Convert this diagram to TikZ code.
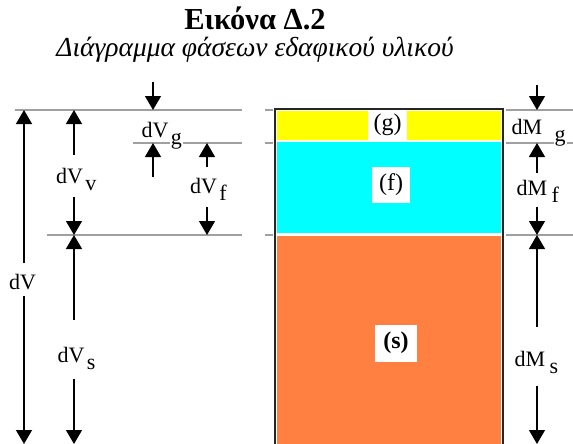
\documentclass[tikz,border=0pt]{standalone}
\usepackage{fontspec}
\setmainfont{Liberation Serif}
\usetikzlibrary{arrows.meta}
\definecolor{gasyellow}{RGB}{255,255,0}
\definecolor{fluidcyan}{RGB}{0,255,255}
\definecolor{solidorange}{RGB}{255,128,64}
\definecolor{guidegray}{RGB}{160,160,160}

\begin{document}
\begin{tikzpicture}[x=1pt,y=-1pt,line join=miter,
  dim/.style={-{Triangle[width=16pt,length=14pt]},line width=1.2pt,black},
  guide/.style={guidegray,line width=1.4pt},
  lbl/.style={font=\fontsize{22}{26}\selectfont,inner sep=0pt,anchor=base},
  subs/.style={font=\fontsize{22}{26}\selectfont,inner sep=1pt,anchor=base west,fill=white},
  phase/.style={fill=white,inner sep=0pt,font=\fontsize{24}{27}\selectfont}]
\useasboundingbox (0,0) rectangle (573,444);

% Title
\node[anchor=base,inner sep=0pt,font=\fontsize{30.5}{34}\selectfont\bfseries] (title) at (255,30) {Εικόνα Δ.2};
\node[anchor=base,inner sep=0pt,font=\fontsize{27.5}{30}\selectfont\itshape] (subtitle) at (255,57)
  {Διάγραμμα φάσεων εδαφικού υλικού};

% Guide lines
\draw[guide] (15,110) -- (242,110);
\draw[guide] (133,143) -- (242,143);
\draw[guide] (47,235) -- (242,235);
\foreach \y in {110,143,235} {
  \draw[guide] (265,\y) -- (273,\y);
  \draw[guide] (506,\y) -- (573,\y);
}

% Phase column
\fill[gasyellow] (277,111) rectangle (501,140);
\fill[fluidcyan] (277,142) rectangle (501,233);
\fill[solidorange] (277,236) rectangle (501,444);
\draw[line width=1.6pt,black!85] (275,444) -- (275,109) -- (503,109) -- (503,444);
\node[phase,minimum width=39pt,minimum height=30pt] (gas) at (387.5,125) {(g)};
\node[phase,minimum width=38pt,minimum height=36pt] (fluid) at (391,185) {(f)};
\node[phase,minimum width=42pt,minimum height=37pt,font=\fontsize{24}{27}\selectfont\bfseries] (solid) at (396,343) {(s)};

% Volume labels
\node[lbl] (V) at (22.5,289) {dV};
\node[lbl] (Vv) at (69.5,183) {dV};
\node[subs] at ([xshift=1pt,yshift=-7pt]Vv.base east) {v};
\node[lbl] (Vs) at (71,362) {dV};
\node[subs] at ([xshift=1pt,yshift=-7pt]Vs.base east) {s};
\node[lbl] (Vg) at (155,137) {dV};
\node[subs] at ([xshift=1pt,yshift=-7pt]Vg.base east) {g};
\node[lbl] (Vf) at (203.5,193) {dV};
\node[subs] at ([xshift=1pt,yshift=-7pt]Vf.base east) {f};

% Mass labels
\node[lbl] (Mg) at (527,134) {dM};
\node[subs] at ([xshift=11pt,yshift=-7pt]Mg.base east) {g};
\node[lbl] (Mf) at (532,195) {dM};
\node[subs] at ([xshift=3pt,yshift=-7pt]Mf.base east) {f};
\node[lbl] (Ms) at (530,366) {dM};
\node[subs] at ([xshift=3pt,yshift=-7pt]Ms.base east) {s};

% Arrow ends
\coordinate (V-a) at (24,263);   \coordinate (V-top) at (24,110);
\coordinate (V-b) at (24,296);   \coordinate (V-bot) at (24,444);
\coordinate (Vv-a) at (74,155);  \coordinate (Vv-top) at (74,110);
\coordinate (Vv-b) at (74,197);  \coordinate (Vv-bot) at (74,235);
\coordinate (Vs-a) at (74,320);  \coordinate (Vs-top) at (74,235);
\coordinate (Vs-b) at (74,379);  \coordinate (Vs-bot) at (74,444);
\coordinate (Vg-a) at (153,82);  \coordinate (Vg-top) at (153,110);
\coordinate (Vg-b) at (153,177); \coordinate (Vg-bot) at (153,143);
\coordinate (Vf-a) at (207,167); \coordinate (Vf-top) at (207,143);
\coordinate (Vf-b) at (207,207); \coordinate (Vf-bot) at (207,235);
\coordinate (Mg-a) at (537,85);  \coordinate (Mg-top) at (537,110);
\coordinate (Mf-a) at (537,173); \coordinate (Mf-top) at (537,143);
\coordinate (Mf-b) at (537,207); \coordinate (Mf-bot) at (537,235);
\coordinate (Ms-a) at (537,327); \coordinate (Ms-top) at (537,235);
\coordinate (Ms-b) at (537,386); \coordinate (Ms-bot) at (537,444);

% Dimension arrows
\draw[dim] (V-a) -- (V-top);   \draw[dim] (V-b) -- (V-bot);
\draw[dim] (Vv-a) -- (Vv-top); \draw[dim] (Vv-b) -- (Vv-bot);
\draw[dim] (Vs-a) -- (Vs-top); \draw[dim] (Vs-b) -- (Vs-bot);
\draw[dim] (Vg-a) -- (Vg-top); \draw[dim] (Vg-b) -- (Vg-bot);
\draw[dim] (Vf-a) -- (Vf-top); \draw[dim] (Vf-b) -- (Vf-bot);
\draw[dim] (Mg-a) -- (Mg-top);
\draw[dim] (Mf-a) -- (Mf-top); \draw[dim] (Mf-b) -- (Mf-bot);
\draw[dim] (Ms-a) -- (Ms-top); \draw[dim] (Ms-b) -- (Ms-bot);
\end{tikzpicture}
\end{document}
